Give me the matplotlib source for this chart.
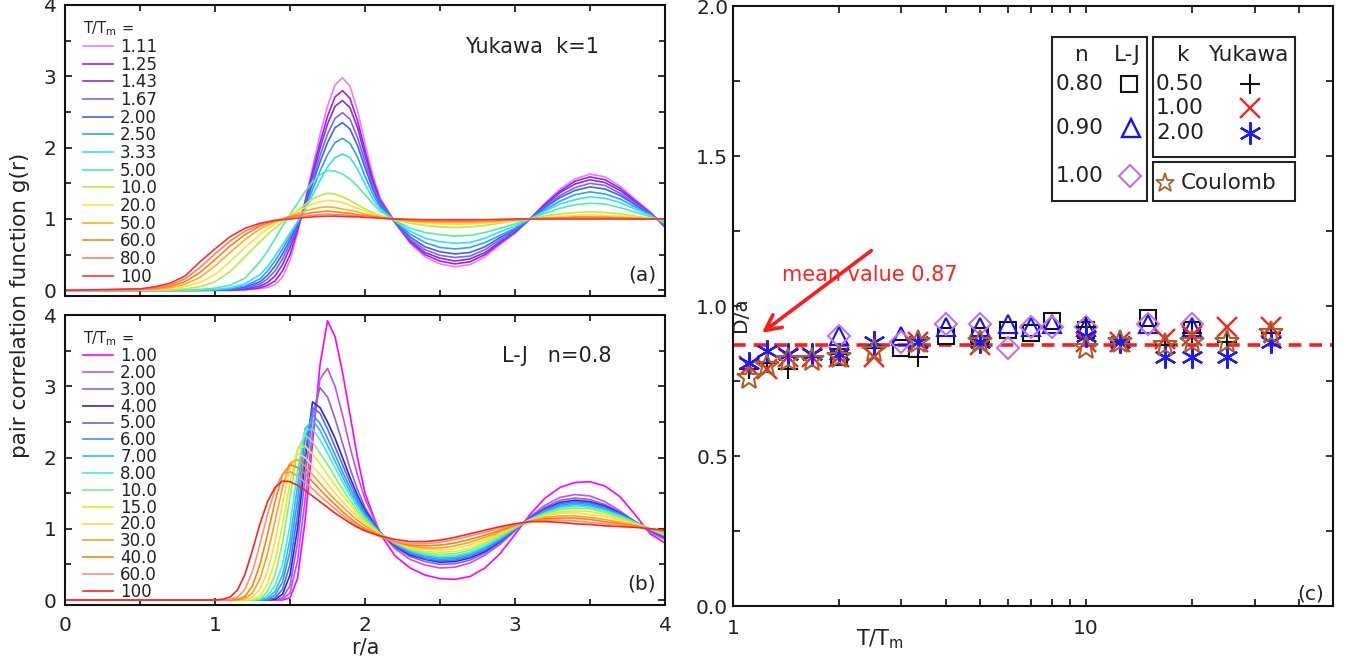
import matplotlib
matplotlib.use('Agg')
import matplotlib.pyplot as plt
from matplotlib.patches import Rectangle
from matplotlib.ticker import MultipleLocator, FixedLocator, FixedFormatter, NullFormatter, FormatStrFormatter
from matplotlib.lines import Line2D

plt.rcParams['font.family'] = ['DejaVu Sans']
plt.rcParams['mathtext.fontset'] = 'dejavusans'

# ---------------- data: panel (a) Yukawa k=1 ----------------
r_a = [0.0, 0.5, 0.6, 0.7, 0.8, 0.9, 1.0, 1.1, 1.2, 1.3, 1.35, 1.4, 1.45, 1.5, 1.55, 1.6, 1.65, 1.7,
       1.75, 1.8, 1.85, 1.9, 1.95, 2.0, 2.05, 2.1, 2.2, 2.3, 2.4, 2.5, 2.6, 2.7, 2.8, 2.9, 3.0, 3.1,
       3.2, 3.3, 3.4, 3.5, 3.6, 3.7, 3.8, 3.9, 4.0]
labels_a = ['1.11', '1.25', '1.43', '1.67', '2.00', '2.50', '3.33', '5.00', '10.0', '20.0',
            '50.0', '60.0', '80.0', '100']
colors_a = ['#f07cf0', '#a020f0', '#8030f0', '#7b68ee', '#4060ff', '#2ea0ff', '#30e0ff',
            '#50f0a0', '#b0f040', '#ffe040', '#ffb020', '#ff8020', '#ff8060', '#ff3030']
ga_111 = [0, 0, 0, 0, 0, 0, 0, 0, 0.005, 0.02, 0.04, 0.08, 0.18, 0.42, 0.8, 1.25, 1.72, 2.18, 2.58, 2.88, 2.98, 2.86, 2.52, 2.06, 1.63, 1.3,
          0.95, 0.66, 0.47, 0.37, 0.33, 0.36, 0.47, 0.64, 0.8, 1.0, 1.22, 1.42, 1.56, 1.63, 1.59, 1.46, 1.28, 1.1, 0.88]
ga_125 = [0, 0, 0, 0, 0, 0, 0, 0, 0.01, 0.035, 0.07, 0.13, 0.27, 0.5, 0.84, 1.23, 1.66, 2.07, 2.44, 2.71, 2.8, 2.69, 2.38, 1.96, 1.57, 1.27,
          0.95, 0.68, 0.5, 0.41, 0.37, 0.4, 0.5, 0.66, 0.81, 1.0, 1.21, 1.39, 1.53, 1.59, 1.55, 1.43, 1.26, 1.09, 0.89]
ga_143 = [0, 0, 0, 0, 0, 0, 0, 0.005, 0.02, 0.06, 0.11, 0.2, 0.36, 0.6, 0.88, 1.21, 1.6, 1.99, 2.33, 2.58, 2.66, 2.56, 2.28, 1.89, 1.53, 1.25,
          0.96, 0.7, 0.53, 0.45, 0.41, 0.44, 0.53, 0.68, 0.82, 1.0, 1.19, 1.37, 1.49, 1.55, 1.51, 1.4, 1.24, 1.09, 0.9]
ga_167 = [0, 0, 0, 0, 0, 0, 0.002, 0.01, 0.035, 0.09, 0.16, 0.27, 0.44, 0.66, 0.91, 1.19, 1.54, 1.89, 2.19, 2.41, 2.49, 2.4, 2.14, 1.8, 1.47, 1.23,
          0.96, 0.72, 0.57, 0.49, 0.46, 0.48, 0.57, 0.71, 0.84, 1.0, 1.17, 1.33, 1.44, 1.5, 1.47, 1.36, 1.22, 1.08, 0.91]
ga_200 = [0, 0, 0, 0, 0, 0, 0.003, 0.015, 0.045, 0.12, 0.21, 0.34, 0.51, 0.71, 0.93, 1.17, 1.49, 1.8, 2.07, 2.28, 2.35, 2.26, 2.03, 1.72, 1.43, 1.2,
          0.96, 0.75, 0.61, 0.54, 0.51, 0.53, 0.61, 0.74, 0.85, 1.0, 1.16, 1.3, 1.4, 1.45, 1.42, 1.33, 1.2, 1.07, 0.91]
ga_250 = [0, 0, 0, 0, 0, 0.002, 0.005, 0.02, 0.06, 0.16, 0.27, 0.41, 0.58, 0.76, 0.95, 1.14, 1.41, 1.67, 1.9, 2.07, 2.13, 2.06, 1.87, 1.6, 1.36, 1.17,
          0.97, 0.79, 0.67, 0.6, 0.58, 0.6, 0.67, 0.77, 0.87, 1.0, 1.13, 1.25, 1.34, 1.38, 1.35, 1.28, 1.17, 1.06, 0.92]
ga_333 = [0, 0, 0, 0, 0, 0.003, 0.01, 0.035, 0.09, 0.22, 0.33, 0.48, 0.64, 0.8, 0.96, 1.13, 1.33, 1.54, 1.73, 1.86, 1.91, 1.86, 1.7, 1.49, 1.29, 1.14,
          0.97, 0.83, 0.73, 0.68, 0.66, 0.67, 0.73, 0.82, 0.9, 1.0, 1.11, 1.21, 1.27, 1.31, 1.29, 1.23, 1.14, 1.05, 0.94]
ga_500 = [0, 0, 0, 0.002, 0.005, 0.012, 0.03, 0.07, 0.17, 0.4, 0.55, 0.72, 0.9, 1.06, 1.22, 1.38, 1.52, 1.62, 1.68, 1.67, 1.63, 1.56, 1.46, 1.34, 1.22, 1.11,
          0.98, 0.87, 0.81, 0.78, 0.76, 0.77, 0.81, 0.87, 0.93, 1.0, 1.08, 1.15, 1.2, 1.22, 1.21, 1.16, 1.1, 1.03, 0.96]
ga_10 = [0, 0.001, 0.003, 0.008, 0.02, 0.05, 0.12, 0.26, 0.47, 0.68, 0.78, 0.87, 0.96, 1.04, 1.12, 1.2, 1.28, 1.33, 1.36, 1.35, 1.31, 1.26, 1.2, 1.14, 1.09, 1.05,
         0.99, 0.94, 0.91, 0.89, 0.88, 0.89, 0.91, 0.94, 0.97, 1.0, 1.04, 1.07, 1.09, 1.1, 1.09, 1.07, 1.04, 1.01, 0.98]
ga_20 = [0, 0.003, 0.008, 0.02, 0.05, 0.11, 0.22, 0.4, 0.6, 0.78, 0.86, 0.93, 0.99, 1.05, 1.11, 1.16, 1.21, 1.24, 1.26, 1.25, 1.23, 1.19, 1.15, 1.11, 1.07, 1.04,
         0.99, 0.96, 0.94, 0.93, 0.92, 0.93, 0.94, 0.96, 0.98, 1.0, 1.02, 1.04, 1.05, 1.06, 1.05, 1.04, 1.03, 1.01, 0.99]
ga_50 = [0, 0.006, 0.015, 0.035, 0.085, 0.18, 0.34, 0.53, 0.71, 0.86, 0.91, 0.96, 1.0, 1.04, 1.08, 1.11, 1.14, 1.16, 1.17, 1.16, 1.14, 1.12, 1.1, 1.07, 1.05, 1.03,
         0.99, 0.97, 0.96, 0.95, 0.95, 0.95, 0.96, 0.97, 0.99, 1.0, 1.01, 1.02, 1.03, 1.03, 1.03, 1.02, 1.01, 1.0, 0.99]
ga_60 = [0, 0.01, 0.025, 0.055, 0.12, 0.25, 0.43, 0.62, 0.78, 0.9, 0.94, 0.97, 1.0, 1.03, 1.05, 1.07, 1.09, 1.1, 1.11, 1.1, 1.09, 1.08, 1.06, 1.05, 1.03, 1.02,
         1.0, 0.98, 0.97, 0.97, 0.97, 0.97, 0.98, 0.98, 0.99, 1.0, 1.01, 1.01, 1.02, 1.02, 1.02, 1.01, 1.01, 1.0, 1.0]
ga_80 = [0, 0.015, 0.035, 0.075, 0.16, 0.32, 0.51, 0.69, 0.83, 0.92, 0.95, 0.98, 1.0, 1.02, 1.03, 1.04, 1.05, 1.06, 1.07, 1.06, 1.06, 1.05, 1.04, 1.03, 1.02, 1.01,
         1.0, 0.99, 0.98, 0.98, 0.98, 0.98, 0.98, 0.99, 0.99, 1.0, 1.0, 1.01, 1.01, 1.01, 1.01, 1.01, 1.0, 1.0, 1.0]
ga_100 = [0, 0.02, 0.05, 0.1, 0.2, 0.4, 0.58, 0.75, 0.87, 0.94, 0.96, 0.98, 0.99, 1.0, 1.01, 1.02, 1.03, 1.035, 1.04, 1.04, 1.035, 1.03, 1.03, 1.02, 1.02, 1.01,
          1.0, 0.995, 0.99, 0.99, 0.99, 0.99, 0.99, 0.995, 1.0, 1.0, 1.0, 1.0, 1.0, 1.0, 1.0, 1.0, 1.0, 1.0, 1.0]
curves_a = [ga_111, ga_125, ga_143, ga_167, ga_200, ga_250, ga_333, ga_500, ga_10, ga_20,
            ga_50, ga_60, ga_80, ga_100]

# ---------------- data: panel (b) L-J n=0.8 ----------------
r_b = [0.0, 0.5, 1.0, 1.05, 1.1, 1.15, 1.2, 1.25, 1.3, 1.35, 1.4, 1.45, 1.5, 1.55, 1.6, 1.65, 1.7, 1.75,
       1.8, 1.85, 1.9, 1.95, 2.0, 2.1, 2.2, 2.3, 2.4, 2.5, 2.6, 2.7, 2.8, 2.9, 3.0, 3.1, 3.2, 3.3,
       3.4, 3.5, 3.6, 3.7, 3.8, 3.9, 4.0]
labels_b = ['1.00', '2.00', '3.00', '4.00', '5.00', '6.00', '7.00', '8.00', '10.0', '15.0',
            '20.0', '30.0', '40.0', '60.0', '100']
colors_b = ['#ff00ff', '#c050ff', '#9060f0', '#3020e0', '#5070e0', '#4090ff', '#20c0ff',
            '#40f0d0', '#80f080', '#e0f020', '#ffd850', '#ffa020', '#ff8010', '#ff9070', '#ff2020']
gb_1 = [0, 0, 0, 0, 0, 0, 0, 0, 0, 0, 0, 0, 0.03, 0.3, 1.1, 2.2, 3.3, 3.92, 3.7, 3.2, 2.6, 2.0, 1.5,
        0.93, 0.62, 0.45, 0.35, 0.3, 0.29, 0.33, 0.45, 0.65, 0.92, 1.2, 1.43, 1.58, 1.65, 1.66, 1.6, 1.45, 1.2, 0.93, 0.8]
gb_2 = [0, 0, 0, 0, 0, 0, 0, 0, 0, 0, 0, 0.01, 0.1, 0.55, 1.4, 2.35, 3.1, 3.25, 3.0, 2.6, 2.15, 1.75, 1.42,
        0.95, 0.72, 0.57, 0.49, 0.45, 0.46, 0.52, 0.63, 0.78, 0.97, 1.17, 1.33, 1.44, 1.48, 1.46, 1.38, 1.25, 1.1, 0.95, 0.85]
gb_3 = [0, 0, 0, 0, 0, 0, 0, 0, 0, 0, 0, 0.03, 0.2, 0.8, 1.7, 2.6, 2.98, 2.85, 2.55, 2.2, 1.85, 1.55, 1.3,
        0.95, 0.74, 0.61, 0.54, 0.5, 0.51, 0.56, 0.66, 0.8, 0.98, 1.16, 1.3, 1.4, 1.43, 1.41, 1.34, 1.23, 1.1, 0.97, 0.87]
gb_4 = [0, 0, 0, 0, 0, 0, 0, 0, 0, 0, 0.01, 0.08, 0.35, 1.0, 1.95, 2.78, 2.7, 2.5, 2.27, 2.0, 1.72, 1.47, 1.26,
        0.95, 0.76, 0.63, 0.57, 0.53, 0.54, 0.59, 0.68, 0.82, 0.99, 1.15, 1.28, 1.37, 1.4, 1.38, 1.32, 1.22, 1.1, 0.98, 0.88]
gb_5 = [0, 0, 0, 0, 0, 0, 0, 0, 0, 0, 0.03, 0.15, 0.5, 1.2, 2.05, 2.7, 2.62, 2.4, 2.15, 1.9, 1.65, 1.42, 1.23,
        0.95, 0.77, 0.65, 0.58, 0.55, 0.56, 0.61, 0.7, 0.83, 0.99, 1.14, 1.27, 1.35, 1.38, 1.36, 1.3, 1.21, 1.1, 0.99, 0.89]
gb_6 = [0, 0, 0, 0, 0, 0, 0, 0, 0, 0.01, 0.07, 0.25, 0.68, 1.4, 2.25, 2.6, 2.48, 2.27, 2.04, 1.8, 1.58, 1.38, 1.2,
        0.94, 0.78, 0.67, 0.6, 0.57, 0.58, 0.63, 0.72, 0.85, 1.0, 1.14, 1.25, 1.33, 1.36, 1.34, 1.28, 1.2, 1.1, 0.99, 0.9]
gb_7 = [0, 0, 0, 0, 0, 0, 0, 0, 0, 0.03, 0.12, 0.35, 0.85, 1.6, 2.4, 2.52, 2.38, 2.17, 1.95, 1.73, 1.52, 1.34, 1.18,
        0.94, 0.79, 0.69, 0.62, 0.59, 0.6, 0.65, 0.74, 0.86, 1.0, 1.13, 1.24, 1.31, 1.34, 1.32, 1.27, 1.19, 1.09, 0.99, 0.9]
gb_8 = [0, 0, 0, 0, 0, 0, 0, 0, 0.01, 0.06, 0.2, 0.5, 1.05, 1.8, 2.38, 2.4, 2.25, 2.06, 1.86, 1.66, 1.47, 1.3, 1.16,
        0.93, 0.8, 0.7, 0.64, 0.61, 0.62, 0.67, 0.76, 0.88, 1.01, 1.13, 1.22, 1.29, 1.32, 1.3, 1.25, 1.18, 1.09, 1.0, 0.91]
gb_10 = [0, 0, 0, 0, 0, 0, 0, 0, 0.02, 0.12, 0.35, 0.8, 1.45, 2.1, 2.32, 2.22, 2.06, 1.9, 1.73, 1.56, 1.4, 1.25, 1.13,
         0.93, 0.8, 0.71, 0.66, 0.64, 0.65, 0.7, 0.79, 0.9, 1.02, 1.12, 1.21, 1.27, 1.29, 1.28, 1.23, 1.16, 1.08, 1.0, 0.92]
gb_15 = [0, 0, 0, 0, 0, 0, 0, 0.01, 0.06, 0.22, 0.55, 1.05, 1.65, 2.12, 2.16, 2.05, 1.91, 1.76, 1.61, 1.47, 1.34, 1.21, 1.1,
         0.93, 0.81, 0.73, 0.68, 0.67, 0.68, 0.73, 0.82, 0.92, 1.03, 1.12, 1.19, 1.24, 1.25, 1.24, 1.2, 1.14, 1.07, 1.0, 0.93]
gb_20 = [0, 0, 0, 0, 0, 0, 0.01, 0.04, 0.15, 0.4, 0.82, 1.35, 1.85, 2.06, 2.0, 1.88, 1.76, 1.63, 1.5, 1.38, 1.27, 1.17, 1.07,
         0.92, 0.81, 0.74, 0.71, 0.7, 0.72, 0.77, 0.85, 0.94, 1.04, 1.12, 1.18, 1.22, 1.22, 1.2, 1.17, 1.12, 1.06, 1.0, 0.94]
gb_30 = [0, 0, 0, 0, 0, 0, 0.02, 0.1, 0.3, 0.65, 1.1, 1.58, 1.92, 1.97, 1.88, 1.76, 1.64, 1.52, 1.41, 1.31, 1.21, 1.12, 1.04,
         0.91, 0.81, 0.76, 0.73, 0.73, 0.76, 0.81, 0.88, 0.96, 1.04, 1.11, 1.16, 1.18, 1.18, 1.16, 1.13, 1.09, 1.05, 1.0, 0.95]
gb_40 = [0, 0, 0, 0, 0, 0.01, 0.05, 0.2, 0.5, 0.92, 1.38, 1.76, 1.9, 1.86, 1.77, 1.66, 1.55, 1.44, 1.34, 1.24, 1.15, 1.07, 1.0,
         0.9, 0.82, 0.77, 0.76, 0.77, 0.8, 0.85, 0.91, 0.98, 1.05, 1.1, 1.14, 1.15, 1.15, 1.13, 1.1, 1.07, 1.04, 1.0, 0.96]
gb_60 = [0, 0, 0, 0, 0.01, 0.04, 0.15, 0.4, 0.78, 1.2, 1.55, 1.77, 1.8, 1.74, 1.65, 1.56, 1.46, 1.37, 1.28, 1.19, 1.11, 1.04, 0.98,
         0.89, 0.82, 0.79, 0.79, 0.81, 0.85, 0.9, 0.95, 1.01, 1.06, 1.1, 1.12, 1.12, 1.11, 1.09, 1.07, 1.05, 1.03, 1.0, 0.97]
gb_100 = [0, 0, 0, 0.01, 0.04, 0.14, 0.36, 0.7, 1.07, 1.38, 1.58, 1.67, 1.66, 1.61, 1.54, 1.46, 1.38, 1.3, 1.22, 1.15, 1.08, 1.02, 0.97,
          0.9, 0.85, 0.82, 0.82, 0.84, 0.88, 0.93, 0.98, 1.03, 1.07, 1.1, 1.1, 1.09, 1.07, 1.06, 1.04, 1.03, 1.02, 1.0, 0.98]
curves_b = [gb_1, gb_2, gb_3, gb_4, gb_5, gb_6, gb_7, gb_8, gb_10, gb_15, gb_20, gb_30, gb_40,
            gb_60, gb_100]

# ---------------- data: panel (c) D/a vs T/Tm ----------------
T_lj = [2.0, 3.0, 4.0, 5.0, 6.0, 7.0, 8.0, 10.0, 15.0, 20.0]
D_n080 = [0.83, 0.86, 0.90, 0.90, 0.92, 0.91, 0.95, 0.92, 0.96, 0.92]
D_n090 = [0.90, 0.90, 0.93, 0.93, 0.94, 0.93, 0.94, 0.93, 0.94, 0.93]
D_n100 = [0.90, 0.88, 0.94, 0.94, 0.86, 0.93, 0.93, 0.93, 0.94, 0.94]
T_yuk = [1.11, 1.25, 1.43, 1.67, 2.0, 2.5, 3.33, 5.0, 10.0, 12.5, 16.7, 20.0, 25.0, 33.3]
D_k050 = [0.79, 0.81, 0.79, 0.83, 0.84, 0.86, 0.83, 0.88, 0.93, 0.88, 0.87, 0.91, 0.88, 0.91]
D_k100 = [0.80, 0.79, 0.83, 0.83, 0.83, 0.83, 0.88, 0.87, 0.88, 0.88, 0.89, 0.90, 0.93, 0.93]
D_k200 = [0.81, 0.85, 0.84, 0.84, 0.84, 0.88, 0.88, 0.88, 0.90, 0.88, 0.83, 0.83, 0.83, 0.88]
D_coul = [0.76, 0.80, 0.82, 0.82, 0.83, 0.85, 0.88, 0.88, 0.86, 0.88, 0.87, 0.88, 0.88, 0.91]
mean_D = 0.87

# ---------------- figure ----------------
W, H = 1345, 664
fig = plt.figure(figsize=(W / 100, H / 100), dpi=100)
TXT = '#222222'


def fx(px):
    return px / W


def fy(py):
    return 1 - py / H


def box(l, t, r, b):
    return [fx(l), fy(b), fx(r) - fx(l), fy(t) - fy(b)]


ax_a = fig.add_axes(box(65, 5, 665, 296))
ax_b = fig.add_axes(box(65, 315, 665, 605))
ax_c = fig.add_axes(box(733, 6, 1333, 606))

for ax in (ax_a, ax_b, ax_c):
    for s in ax.spines.values():
        s.set_linewidth(1.5)
        s.set_color('#111111')
    ax.tick_params(which='both', direction='in', top=True, right=True, colors='#111111',
                   labelcolor=TXT, labelsize=14.5, width=1.2)
    ax.tick_params(which='major', length=5)
    ax.tick_params(which='minor', length=4)

for ax, rr, curves, labels, colors, ymin, lsp in ((ax_a, r_a, curves_a, labels_a, colors_a, -0.08, -0.02),
                                                  (ax_b, r_b, curves_b, labels_b, colors_b, -0.07, -0.07)):
    for g, lab, col in zip(curves, labels, colors):
        ax.plot(rr, g, color=col, lw=1.2, label=lab)
    ax.set_xlim(0, 4)
    ax.set_ylim(ymin, 4.0)
    ax.xaxis.set_major_locator(MultipleLocator(1))
    ax.xaxis.set_minor_locator(MultipleLocator(0.5))
    ax.yaxis.set_major_locator(MultipleLocator(1))
    ax.yaxis.set_minor_locator(MultipleLocator(0.5))
    ax.tick_params(axis='y', pad=6)
    leg = ax.legend(loc='upper left', bbox_to_anchor=(0.01, 0.99), frameon=False,
                    fontsize=12, title=r'$\mathregular{T/T_m}$ =', title_fontsize=10.5,
                    handlelength=1.8, handletextpad=0.45, labelspacing=lsp, borderpad=0.2,
                    alignment='left')
    for t in leg.get_texts():
        t.set_color(TXT)
    leg.get_title().set_color(TXT)

ax_a.tick_params(axis='x', labelbottom=False)
ax_b.tick_params(axis='x', pad=8)
ax_b.set_xlabel('r/a', fontsize=15, color=TXT, labelpad=2)
ax_a.text(0.89, 0.855, 'Yukawa  k=1', transform=ax_a.transAxes, ha='right', va='center',
          fontsize=15, color=TXT)
ax_a.text(0.985, 0.04, '(a)', transform=ax_a.transAxes, ha='right', va='bottom', fontsize=14.5, color=TXT)
ax_b.text(0.91, 0.86, 'L-J   n=0.8', transform=ax_b.transAxes, ha='right', va='center',
          fontsize=15, color=TXT)
ax_b.text(0.985, 0.04, '(b)', transform=ax_b.transAxes, ha='right', va='bottom', fontsize=14.5, color=TXT)
fig.text(fx(20), fy(305), 'pair correlation function g(r)', rotation=90, ha='center', va='center',
         fontsize=15.5, color=TXT)

# ---------------- panel (c) ----------------
ax_c.set_xscale('log')
ax_c.set_xlim(1, 50)
ax_c.set_ylim(0, 2.0)
ax_c.xaxis.set_major_locator(FixedLocator([1, 10]))
ax_c.xaxis.set_major_formatter(FixedFormatter(['1', '10']))
ax_c.xaxis.set_minor_locator(FixedLocator([2, 3, 4, 5, 6, 7, 8, 9, 20, 30, 40]))
ax_c.xaxis.set_minor_formatter(NullFormatter())
ax_c.yaxis.set_major_locator(MultipleLocator(0.5))
ax_c.yaxis.set_minor_locator(MultipleLocator(0.25))
ax_c.yaxis.set_major_formatter(FormatStrFormatter('%.1f'))
ax_c.tick_params(which='minor', length=5)
ax_c.tick_params(axis='x', pad=9)

ax_c.axhline(mean_D, color='#ff1a1a', lw=2.6, ls=(0, (3.5, 2.2)), zorder=1)

ax_c.plot(T_lj, D_n080, ls='none', marker='s', ms=11, mfc='none', mec='#111111', mew=1.5, zorder=3)
ax_c.plot(T_lj, D_n090, ls='none', marker='^', ms=13, mfc='none', mec='#1010ff', mew=1.5, zorder=3)
ax_c.plot(T_lj, D_n100, ls='none', marker='D', ms=11, mfc='none', mec='#c070f0', mew=1.5, zorder=3)
ax_c.plot(T_yuk, D_k050, ls='none', marker='+', ms=14, mec='#111111', mew=1.5, zorder=4)
ax_c.plot(T_yuk, D_k100, ls='none', marker='x', ms=14, mec='#ff2020', mew=1.7, zorder=4)
ax_c.plot(T_yuk, D_k200, ls='none', marker=(6, 2, 0), ms=16, mec='#1a1aff', mew=1.6, zorder=4)
ax_c.plot(T_yuk, D_coul, ls='none', marker='*', ms=18, mfc='none', mec='#a8622a', mew=1.5, zorder=5)

ax_c.annotate('', xy=(1.19, 0.905), xytext=(2.5, 1.19),
              arrowprops=dict(arrowstyle='->', color='#ff1a1a', lw=2.6, mutation_scale=28))
ax_c.text(2.44, 1.103, 'mean value 0.87', ha='center', va='center', fontsize=15, color='#ff2020')
ax_c.text(0.245, -0.055, r'$\mathregular{T/T_m}$', transform=ax_c.transAxes, ha='center', va='center',
          fontsize=15, color=TXT)
ax_c.text(0.013, 0.485, 'D/a', transform=ax_c.transAxes, rotation=90, ha='center', va='center',
          fontsize=14.5, color=TXT)
ax_c.text(0.985, 0.005, '(c)', transform=ax_c.transAxes, ha='right', va='bottom', fontsize=14.5, color=TXT)

# ---------------- panel (c) legend boxes ----------------
for (l, t, r, b) in ((1052, 37, 1147, 201), (1153, 37, 1295, 157), (1153, 162, 1295, 201)):
    fig.add_artist(Rectangle((fx(l), fy(b)), fx(r) - fx(l), fy(t) - fy(b), transform=fig.transFigure,
                             fill=False, lw=1.5, ec='#222222'))

LF = 15.5
fig.text(fx(1082), fy(55), 'n', ha='center', va='center', fontsize=LF, color=TXT)
fig.text(fx(1127), fy(55), 'L-J', ha='center', va='center', fontsize=LF, color=TXT)
fig.text(fx(1183), fy(55), 'k', ha='center', va='center', fontsize=LF, color=TXT)
fig.text(fx(1248), fy(55), 'Yukawa', ha='center', va='center', fontsize=LF, color=TXT)
for lab, py in (('0.80', 84), ('0.90', 128), ('1.00', 176)):
    fig.text(fx(1056), fy(py), lab, ha='left', va='center', fontsize=LF, color=TXT)
for lab, py in (('0.50', 84), ('1.00', 108), ('2.00', 133)):
    fig.text(fx(1156), fy(py), lab, ha='left', va='center', fontsize=LF, color=TXT)
fig.text(fx(1181), fy(183), 'Coulomb', ha='left', va='center', fontsize=LF, color=TXT)

leg_marks = [
    (1129, 84, dict(marker='s', ms=11, mfc='none', mec='#111111', mew=1.5)),
    (1131, 128, dict(marker='^', ms=13, mfc='none', mec='#1010ff', mew=1.7)),
    (1130, 176, dict(marker='D', ms=11, mfc='none', mec='#c070f0', mew=1.5)),
    (1250, 84, dict(marker='+', ms=14, mec='#111111', mew=1.5)),
    (1250, 108, dict(marker='x', ms=14, mec='#ff2020', mew=1.7)),
    (1250, 133, dict(marker=(6, 2, 0), ms=16, mec='#1a1aff', mew=1.6)),
    (1165, 183, dict(marker='*', ms=14, mfc='none', mec='#a8622a', mew=1.3)),
]
for px, py, kw in leg_marks:
    fig.add_artist(Line2D([fx(px)], [fy(py)], transform=fig.transFigure, ls='none', **kw))

fig.savefig('out.png', dpi=100)
